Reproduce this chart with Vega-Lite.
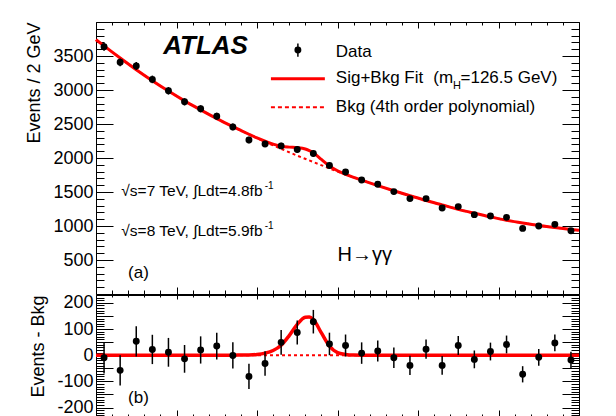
{
  "$schema": "https://vega.github.io/schema/vega-lite/v6.json",
  "padding": {"left": 25, "top": 21, "right": 0, "bottom": 0},
  "spacing": -3,
  "config": {
    "view": {"stroke": "black", "strokeWidth": 1},
    "axis": {"domain": false, "grid": false, "tickColor": "black", "tickWidth": 1, "labelColor": "black", "titleColor": "black", "labelFont": "Liberation Sans", "titleFont": "Liberation Sans", "labelFontSize": 18, "titleFontSize": 18, "titleFontWeight": "normal"},
    "font": "Liberation Sans"
  },
  "datasets": {
    "pts": [
      {"m": 101, "n": 3636, "res": -10, "err": 60},
      {"m": 103, "n": 3407, "res": -58, "err": 58},
      {"m": 105, "n": 3352, "res": 53, "err": 58},
      {"m": 107, "n": 3156, "res": 22, "err": 56},
      {"m": 109, "n": 2988, "res": 11, "err": 55},
      {"m": 111, "n": 2826, "res": -14, "err": 53},
      {"m": 113, "n": 2723, "res": 20, "err": 52},
      {"m": 115, "n": 2615, "res": 35, "err": 51},
      {"m": 117, "n": 2457, "res": -1, "err": 50},
      {"m": 119, "n": 2266, "res": -81, "err": 48},
      {"m": 121, "n": 2207, "res": -32, "err": 47},
      {"m": 123, "n": 2178, "res": 49, "err": 47},
      {"m": 125, "n": 2125, "res": 87, "err": 46},
      {"m": 127, "n": 2066, "res": 128, "err": 45},
      {"m": 129, "n": 1889, "res": 43, "err": 43},
      {"m": 131, "n": 1794, "res": 37, "err": 42},
      {"m": 133, "n": 1677, "res": 8, "err": 41},
      {"m": 135, "n": 1613, "res": 16, "err": 40},
      {"m": 137, "n": 1506, "res": -10, "err": 39},
      {"m": 139, "n": 1403, "res": -39, "err": 37},
      {"m": 141, "n": 1403, "res": 23, "err": 37},
      {"m": 143, "n": 1264, "res": -39, "err": 36},
      {"m": 145, "n": 1285, "res": 37, "err": 36},
      {"m": 147, "n": 1167, "res": -16, "err": 34},
      {"m": 149, "n": 1146, "res": 14, "err": 34},
      {"m": 151, "n": 1127, "res": 41, "err": 34},
      {"m": 153, "n": 965, "res": -73, "err": 31},
      {"m": 155, "n": 999, "res": -8, "err": 32},
      {"m": 157, "n": 1024, "res": 47, "err": 32},
      {"m": 159, "n": 931, "res": -18, "err": 31}
    ],
    "bkg": [
      {"m": 100, "n": 3740}, {"m": 101, "n": 3648}, {"m": 103, "n": 3470}, {"m": 105, "n": 3299},
      {"m": 107, "n": 3137}, {"m": 109, "n": 2984}, {"m": 111, "n": 2840}, {"m": 113, "n": 2708},
      {"m": 115, "n": 2580}, {"m": 117, "n": 2462}, {"m": 119, "n": 2348}, {"m": 121, "n": 2238},
      {"m": 123, "n": 2135}, {"m": 125, "n": 2035}, {"m": 127, "n": 1941}, {"m": 129, "n": 1847},
      {"m": 131, "n": 1757}, {"m": 133, "n": 1674}, {"m": 135, "n": 1594}, {"m": 137, "n": 1518},
      {"m": 139, "n": 1446}, {"m": 141, "n": 1375}, {"m": 143, "n": 1310}, {"m": 145, "n": 1245},
      {"m": 147, "n": 1188}, {"m": 149, "n": 1134}, {"m": 151, "n": 1085}, {"m": 153, "n": 1044},
      {"m": 155, "n": 1007}, {"m": 157, "n": 978}, {"m": 159, "n": 950}, {"m": 160, "n": 937}
    ],
    "sb": [
      {"m": 100, "n": 3740}, {"m": 101, "n": 3648}, {"m": 103, "n": 3470}, {"m": 105, "n": 3299},
      {"m": 107, "n": 3137}, {"m": 109, "n": 2984}, {"m": 111, "n": 2840}, {"m": 113, "n": 2708},
      {"m": 115, "n": 2580}, {"m": 117, "n": 2462}, {"m": 118, "n": 2405}, {"m": 119, "n": 2349},
      {"m": 120, "n": 2295}, {"m": 121, "n": 2246}, {"m": 122, "n": 2204}, {"m": 123, "n": 2173},
      {"m": 124, "n": 2160}, {"m": 125, "n": 2153}, {"m": 126, "n": 2133}, {"m": 126.5, "n": 2110},
      {"m": 127, "n": 2077}, {"m": 128, "n": 1979}, {"m": 129, "n": 1882}, {"m": 130, "n": 1812},
      {"m": 131, "n": 1760}, {"m": 132, "n": 1715}, {"m": 133, "n": 1674}, {"m": 135, "n": 1594},
      {"m": 137, "n": 1518}, {"m": 139, "n": 1446}, {"m": 141, "n": 1375}, {"m": 143, "n": 1310},
      {"m": 145, "n": 1245}, {"m": 147, "n": 1188}, {"m": 149, "n": 1134}, {"m": 151, "n": 1085},
      {"m": 153, "n": 1044}, {"m": 155, "n": 1007}, {"m": 157, "n": 978}, {"m": 159, "n": 950},
      {"m": 160, "n": 937}
    ],
    "sig": [
      {"m": 100, "s": 0}, {"m": 117, "s": 0}, {"m": 118, "s": 0.5}, {"m": 119, "s": 1},
      {"m": 120, "s": 3}, {"m": 121, "s": 8}, {"m": 122, "s": 18}, {"m": 123, "s": 38},
      {"m": 124, "s": 75}, {"m": 125, "s": 118}, {"m": 126, "s": 145}, {"m": 126.5, "s": 146},
      {"m": 127, "s": 136}, {"m": 128, "s": 85}, {"m": 129, "s": 35}, {"m": 130, "s": 10},
      {"m": 131, "s": 3}, {"m": 132, "s": 0.5}, {"m": 133, "s": 0}, {"m": 160, "s": 0}
    ],
    "zero": [{"m": 100, "s": 0}, {"m": 160, "s": 0}]
  },
  "vconcat": [
    {
      "width": 483,
      "height": 272,
      "resolve": {"axis": {"x": "independent", "y": "independent"}},
      "layer": [
        {
          "data": {"name": "bkg"},
          "mark": {"type": "line", "color": "#ff0000", "strokeWidth": 2, "strokeDash": [3, 3], "interpolate": "monotone"},
          "encoding": {
            "x": {"field": "m", "type": "quantitative", "scale": {"domain": [100, 160], "nice": false, "zero": false},
              "axis": {"orient": "bottom", "values": [100,102,104,106,108,110,112,114,116,118,120,122,124,126,128,130,132,134,136,138,140,142,144,146,148,150,152,154,156,158,160],
                "tickSize": {"condition": {"test": "datum.value % 10 === 0", "value": -7}, "value": -4}, "labels": false, "title": null}},
            "y": {"field": "n", "type": "quantitative", "scale": {"domain": [0, 4000], "nice": false, "zero": false},
              "axis": {"orient": "left", "values": [0,100,200,300,400,500,600,700,800,900,1000,1100,1200,1300,1400,1500,1600,1700,1800,1900,2000,2100,2200,2300,2400,2500,2600,2700,2800,2900,3000,3100,3200,3300,3400,3500,3600,3700,3800,3900,4000],
                "tickSize": {"condition": {"test": "datum.value % 500 === 0", "value": -17}, "value": -8},
                "format": "d", "labelExpr": "datum.value % 500 === 0 && datum.value > 0 && datum.value < 4000 ? datum.label : ''",
                "labelFontSize": {"condition": {"test": "datum.value % 500 === 0 && datum.value > 0 && datum.value < 4000", "value": 18}, "value": 0},
                "labelPadding": 20, "labelOverlap": false, "labelFlush": false, "labelBound": false, "labelBaseline": "middle",
                "title": "Events / 2 GeV", "titleAnchor": "end", "titlePadding": 9}}
          }
        },
        {
          "data": {"name": "sb"},
          "mark": {"type": "line", "color": "#ff0000", "strokeWidth": 3, "interpolate": "monotone"},
          "encoding": {
            "x": {"field": "m", "type": "quantitative", "scale": {"domain": [100, 160], "nice": false, "zero": false},
              "axis": {"orient": "top", "values": [100,102,104,106,108,110,112,114,116,118,120,122,124,126,128,130,132,134,136,138,140,142,144,146,148,150,152,154,156,158,160],
                "tickSize": {"condition": {"test": "datum.value % 10 === 0", "value": -6}, "value": -3}, "labels": false, "title": null}},
            "y": {"field": "n", "type": "quantitative", "scale": {"domain": [0, 4000], "nice": false, "zero": false},
              "axis": {"orient": "right", "values": [0,100,200,300,400,500,600,700,800,900,1000,1100,1200,1300,1400,1500,1600,1700,1800,1900,2000,2100,2200,2300,2400,2500,2600,2700,2800,2900,3000,3100,3200,3300,3400,3500,3600,3700,3800,3900,4000],
                "tickSize": {"condition": {"test": "datum.value % 500 === 0", "value": -17}, "value": -8}, "labels": false, "title": null}}
          }
        },
        {
          "data": {"name": "pts"},
          "mark": {"type": "errorbar", "color": "black", "thickness": 1.5},
          "encoding": {
            "x": {"field": "m", "type": "quantitative", "scale": {"domain": [100, 160], "nice": false, "zero": false}, "axis": null},
            "y": {"field": "n", "type": "quantitative", "scale": {"domain": [0, 4000], "nice": false, "zero": false}, "axis": null},
            "yError": {"field": "err"}
          }
        },
        {
          "data": {"name": "pts"},
          "mark": {"type": "circle", "color": "black", "size": 48, "opacity": 1},
          "encoding": {
            "x": {"field": "m", "type": "quantitative", "scale": {"domain": [100, 160], "nice": false, "zero": false}, "axis": null},
            "y": {"field": "n", "type": "quantitative", "scale": {"domain": [0, 4000], "nice": false, "zero": false}, "axis": null}
          }
        },
        {
          "data": {"values": [{}]},
          "mark": {"type": "text", "text": "ATLAS", "fontSize": 26, "fontWeight": "bold", "fontStyle": "italic", "align": "left", "baseline": "alphabetic", "color": "black"},
          "encoding": {
            "x": {"datum": 108.35, "type": "quantitative", "scale": {"domain": [100, 160], "nice": false, "zero": false}, "axis": null},
            "y": {"datum": 3524, "type": "quantitative", "scale": {"domain": [0, 4000], "nice": false, "zero": false}, "axis": null}
          }
        },
        {
          "data": {"values": [{}]},
          "mark": {"type": "circle", "color": "black", "size": 48, "opacity": 1},
          "encoding": {
            "x": {"datum": 125.08, "type": "quantitative", "scale": {"domain": [100, 160], "nice": false, "zero": false}, "axis": null},
            "y": {"datum": 3587, "type": "quantitative", "scale": {"domain": [0, 4000], "nice": false, "zero": false}, "axis": null}
          }
        },
        {
          "data": {"values": [{}]},
          "mark": {"type": "rule", "color": "black", "strokeWidth": 1.5},
          "encoding": {
            "x": {"datum": 125.08, "type": "quantitative", "scale": {"domain": [100, 160], "nice": false, "zero": false}, "axis": null},
            "y": {"datum": 3490, "type": "quantitative", "scale": {"domain": [0, 4000], "nice": false, "zero": false}, "axis": null},
            "y2": {"datum": 3685}
          }
        },
        {
          "data": {"values": [{}]},
          "mark": {"type": "rule", "color": "#ff0000", "strokeWidth": 3},
          "encoding": {
            "x": {"datum": 121.73, "type": "quantitative", "scale": {"domain": [100, 160], "nice": false, "zero": false}, "axis": null},
            "x2": {"datum": 128.43},
            "y": {"datum": 3165, "type": "quantitative", "scale": {"domain": [0, 4000], "nice": false, "zero": false}, "axis": null}
          }
        },
        {
          "data": {"values": [{}]},
          "mark": {"type": "rule", "color": "#ff0000", "strokeWidth": 2, "strokeDash": [4, 3]},
          "encoding": {
            "x": {"datum": 121.73, "type": "quantitative", "scale": {"domain": [100, 160], "nice": false, "zero": false}, "axis": null},
            "x2": {"datum": 128.43},
            "y": {"datum": 2748, "type": "quantitative", "scale": {"domain": [0, 4000], "nice": false, "zero": false}, "axis": null}
          }
        },
        {
          "data": {"values": [{}]},
          "mark": {"type": "text", "text": "Data", "fontSize": 17, "align": "left", "baseline": "alphabetic", "color": "black"},
          "encoding": {
            "x": {"datum": 129.79, "type": "quantitative", "scale": {"domain": [100, 160], "nice": false, "zero": false}, "axis": null},
            "y": {"datum": 3484, "type": "quantitative", "scale": {"domain": [0, 4000], "nice": false, "zero": false}, "axis": null}
          }
        },
        {
          "data": {"values": [{}]},
          "mark": {"type": "text", "text": "Sig+Bkg Fit", "fontSize": 17, "align": "left", "baseline": "alphabetic", "color": "black"},
          "encoding": {
            "x": {"datum": 129.79, "type": "quantitative", "scale": {"domain": [100, 160], "nice": false, "zero": false}, "axis": null},
            "y": {"datum": 3097, "type": "quantitative", "scale": {"domain": [0, 4000], "nice": false, "zero": false}, "axis": null}
          }
        },
        {
          "data": {"values": [{}]},
          "mark": {"type": "text", "text": "(m", "fontSize": 17, "align": "left", "baseline": "alphabetic", "color": "black"},
          "encoding": {
            "x": {"datum": 141.89, "type": "quantitative", "scale": {"domain": [100, 160], "nice": false, "zero": false}, "axis": null},
            "y": {"datum": 3097, "type": "quantitative", "scale": {"domain": [0, 4000], "nice": false, "zero": false}, "axis": null}
          }
        },
        {
          "data": {"values": [{}]},
          "mark": {"type": "text", "text": "H", "fontSize": 11, "align": "left", "baseline": "alphabetic", "color": "black"},
          "encoding": {
            "x": {"datum": 144.35, "type": "quantitative", "scale": {"domain": [100, 160], "nice": false, "zero": false}, "axis": null},
            "y": {"datum": 3008, "type": "quantitative", "scale": {"domain": [0, 4000], "nice": false, "zero": false}, "axis": null}
          }
        },
        {
          "data": {"values": [{}]},
          "mark": {"type": "text", "text": "=126.5 GeV)", "fontSize": 17, "align": "left", "baseline": "alphabetic", "color": "black"},
          "encoding": {
            "x": {"datum": 145.28, "type": "quantitative", "scale": {"domain": [100, 160], "nice": false, "zero": false}, "axis": null},
            "y": {"datum": 3097, "type": "quantitative", "scale": {"domain": [0, 4000], "nice": false, "zero": false}, "axis": null}
          }
        },
        {
          "data": {"values": [{}]},
          "mark": {"type": "text", "text": "Bkg (4th order polynomial)", "fontSize": 17, "align": "left", "baseline": "alphabetic", "color": "black"},
          "encoding": {
            "x": {"datum": 129.79, "type": "quantitative", "scale": {"domain": [100, 160], "nice": false, "zero": false}, "axis": null},
            "y": {"datum": 2674, "type": "quantitative", "scale": {"domain": [0, 4000], "nice": false, "zero": false}, "axis": null}
          }
        },
        {
          "data": {"values": [{}]},
          "mark": {"type": "text", "text": "√s=7 TeV, ∫Ldt=4.8fb", "fontSize": 15.5, "align": "left", "baseline": "alphabetic", "color": "black"},
          "encoding": {
            "x": {"datum": 103.15, "type": "quantitative", "scale": {"domain": [100, 160], "nice": false, "zero": false}, "axis": null},
            "y": {"datum": 1437, "type": "quantitative", "scale": {"domain": [0, 4000], "nice": false, "zero": false}, "axis": null}
          }
        },
        {
          "data": {"values": [{}]},
          "mark": {"type": "text", "text": "-1", "fontSize": 10, "align": "left", "baseline": "alphabetic", "color": "black"},
          "encoding": {
            "x": {"datum": 120.95, "type": "quantitative", "scale": {"domain": [100, 160], "nice": false, "zero": false}, "axis": null},
            "y": {"datum": 1540, "type": "quantitative", "scale": {"domain": [0, 4000], "nice": false, "zero": false}, "axis": null}
          }
        },
        {
          "data": {"values": [{}]},
          "mark": {"type": "text", "text": "√s=8 TeV, ∫Ldt=5.9fb", "fontSize": 15.5, "align": "left", "baseline": "alphabetic", "color": "black"},
          "encoding": {
            "x": {"datum": 103.15, "type": "quantitative", "scale": {"domain": [100, 160], "nice": false, "zero": false}, "axis": null},
            "y": {"datum": 847, "type": "quantitative", "scale": {"domain": [0, 4000], "nice": false, "zero": false}, "axis": null}
          }
        },
        {
          "data": {"values": [{}]},
          "mark": {"type": "text", "text": "-1", "fontSize": 10, "align": "left", "baseline": "alphabetic", "color": "black"},
          "encoding": {
            "x": {"datum": 120.95, "type": "quantitative", "scale": {"domain": [100, 160], "nice": false, "zero": false}, "axis": null},
            "y": {"datum": 950, "type": "quantitative", "scale": {"domain": [0, 4000], "nice": false, "zero": false}, "axis": null}
          }
        },
        {
          "data": {"values": [{}]},
          "mark": {"type": "text", "text": "H→γγ", "fontSize": 20, "align": "left", "baseline": "alphabetic", "color": "black"},
          "encoding": {
            "x": {"datum": 130.0, "type": "quantitative", "scale": {"domain": [100, 160], "nice": false, "zero": false}, "axis": null},
            "y": {"datum": 489, "type": "quantitative", "scale": {"domain": [0, 4000], "nice": false, "zero": false}, "axis": null}
          }
        },
        {
          "data": {"values": [{}]},
          "mark": {"type": "text", "text": "(a)", "fontSize": 17, "align": "left", "baseline": "alphabetic", "color": "black"},
          "encoding": {
            "x": {"datum": 103.98, "type": "quantitative", "scale": {"domain": [100, 160], "nice": false, "zero": false}, "axis": null},
            "y": {"datum": 233, "type": "quantitative", "scale": {"domain": [0, 4000], "nice": false, "zero": false}, "axis": null}
          }
        }
      ]
    },
    {
      "width": 483,
      "height": 123,
      "resolve": {"axis": {"x": "independent", "y": "independent"}},
      "layer": [
        {
          "data": {"name": "zero"},
          "mark": {"type": "line", "color": "#ff0000", "strokeWidth": 2, "strokeDash": [3, 3]},
          "encoding": {
            "x": {"field": "m", "type": "quantitative", "scale": {"domain": [100, 160], "nice": false, "zero": false},
              "axis": {"orient": "bottom", "values": [100,102,104,106,108,110,112,114,116,118,120,122,124,126,128,130,132,134,136,138,140,142,144,146,148,150,152,154,156,158,160],
                "tickSize": {"condition": {"test": "datum.value % 10 === 0", "value": -8}, "value": -4}, "labels": false, "title": null}},
            "y": {"field": "s", "type": "quantitative", "scale": {"domain": [-240, 230], "nice": false, "zero": false},
              "axis": {"orient": "left", "values": [-240,-230,-220,-210,-200,-190,-180,-170,-160,-150,-140,-130,-120,-110,-100,-90,-80,-70,-60,-50,-40,-30,-20,-10,0,10,20,30,40,50,60,70,80,90,100,110,120,130,140,150,160,170,180,190,200,210,220,230],
                "tickSize": {"condition": {"test": "datum.value % 50 === 0", "value": -17}, "value": -8},
                "labelExpr": "datum.value % 100 === 0 && abs(datum.value) <= 200 ? '' + datum.value : ''",
                "labelFontSize": {"condition": {"test": "datum.value % 100 === 0 && abs(datum.value) <= 200", "value": 18}, "value": 0},
                "labelPadding": 20, "labelOverlap": false, "labelFlush": false, "labelBound": false, "labelBaseline": "middle",
                "title": "Events - Bkg", "titleAnchor": "end", "titlePadding": 9}}
          }
        },
        {
          "data": {"name": "sig"},
          "mark": {"type": "line", "color": "#ff0000", "strokeWidth": 3.5, "interpolate": "monotone"},
          "encoding": {
            "x": {"field": "m", "type": "quantitative", "scale": {"domain": [100, 160], "nice": false, "zero": false},
              "axis": {"orient": "top", "values": [100,102,104,106,108,110,112,114,116,118,120,122,124,126,128,130,132,134,136,138,140,142,144,146,148,150,152,154,156,158,160],
                "tickSize": {"condition": {"test": "datum.value % 10 === 0", "value": -4}, "value": -2}, "labels": false, "title": null}},
            "y": {"field": "s", "type": "quantitative", "scale": {"domain": [-240, 230], "nice": false, "zero": false},
              "axis": {"orient": "right", "values": [-240,-230,-220,-210,-200,-190,-180,-170,-160,-150,-140,-130,-120,-110,-100,-90,-80,-70,-60,-50,-40,-30,-20,-10,0,10,20,30,40,50,60,70,80,90,100,110,120,130,140,150,160,170,180,190,200,210,220,230],
                "tickSize": {"condition": {"test": "datum.value % 50 === 0", "value": -17}, "value": -8}, "labels": false, "title": null}}
          }
        },
        {
          "data": {"name": "pts"},
          "mark": {"type": "errorbar", "color": "black", "thickness": 1.5},
          "encoding": {
            "x": {"field": "m", "type": "quantitative", "scale": {"domain": [100, 160], "nice": false, "zero": false}, "axis": null},
            "y": {"field": "res", "type": "quantitative", "scale": {"domain": [-240, 230], "nice": false, "zero": false}, "axis": null},
            "yError": {"field": "err"}
          }
        },
        {
          "data": {"name": "pts"},
          "mark": {"type": "circle", "color": "black", "size": 48, "opacity": 1},
          "encoding": {
            "x": {"field": "m", "type": "quantitative", "scale": {"domain": [100, 160], "nice": false, "zero": false}, "axis": null},
            "y": {"field": "res", "type": "quantitative", "scale": {"domain": [-240, 230], "nice": false, "zero": false}, "axis": null}
          }
        },
        {
          "data": {"values": [{}]},
          "mark": {"type": "text", "text": "(b)", "fontSize": 17, "align": "left", "baseline": "alphabetic", "color": "black"},
          "encoding": {
            "x": {"datum": 103.98, "type": "quantitative", "scale": {"domain": [100, 160], "nice": false, "zero": false}, "axis": null},
            "y": {"datum": -182, "type": "quantitative", "scale": {"domain": [-240, 230], "nice": false, "zero": false}, "axis": null}
          }
        }
      ]
    }
  ]
}
